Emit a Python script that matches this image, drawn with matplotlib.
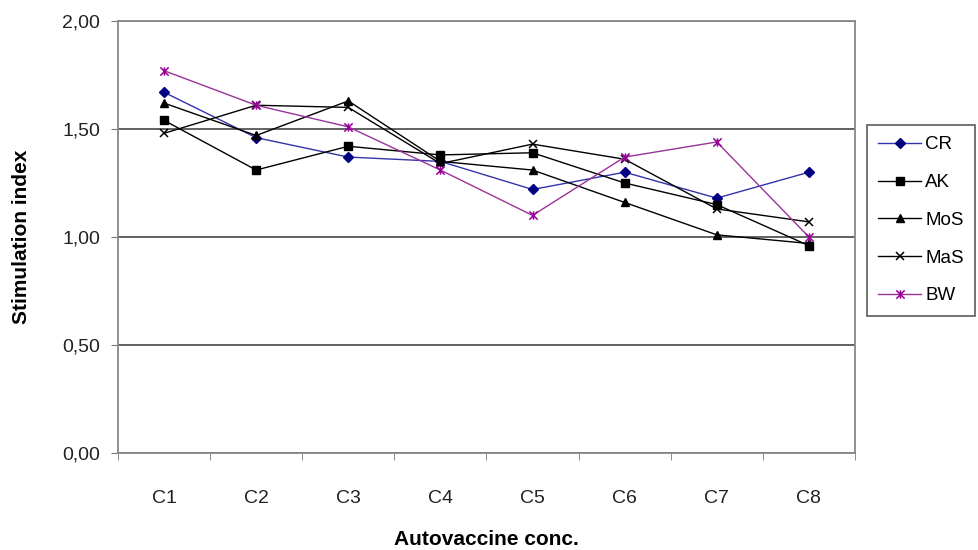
import matplotlib.pyplot as plt
from matplotlib.path import Path
from matplotlib.ticker import FuncFormatter, FixedLocator

plt.rcParams['font.family'] = ['Liberation Sans', 'DejaVu Sans']

concs = ['C1', 'C2', 'C3', 'C4', 'C5', 'C6', 'C7', 'C8']
cr = [1.67, 1.46, 1.37, 1.35, 1.22, 1.30, 1.18, 1.30]
ak = [1.54, 1.31, 1.42, 1.38, 1.39, 1.25, 1.15, 0.96]
mos = [1.62, 1.47, 1.63, 1.35, 1.31, 1.16, 1.01, 0.97]
mas = [1.48, 1.61, 1.60, 1.34, 1.43, 1.36, 1.13, 1.07]
bw = [1.77, 1.61, 1.51, 1.31, 1.10, 1.37, 1.44, 1.00]

# excel style star: x with a vertical bar
star = Path([(-1, -1), (1, 1), (-1, 1), (1, -1), (0, -1), (0, 1)],
            [Path.MOVETO, Path.LINETO, Path.MOVETO, Path.LINETO, Path.MOVETO, Path.LINETO])

fig = plt.figure(figsize=(9.79, 5.5), dpi=100)
ax = fig.add_axes([0.1205, 0.1764, 0.7528, 0.7854])

x = range(len(concs))
ax.plot(x, cr, color='#3333aa', lw=1, marker='D', ms=5, mfc='#000080', mec='#000080', label='CR')
ax.plot(x, ak, color='black', lw=1, marker='s', ms=5.5, label='AK')
ax.plot(x, mos, color='black', lw=1, marker='^', ms=6, label='MoS')
ax.plot(x, mas, color='black', lw=1, marker='x', ms=6, mew=1.1, label='MaS')
ax.plot(x, bw, color='#993399', lw=1, marker=star, ms=6, mew=1.1, mec='#990099', label='BW')

ax.set_xlim(-0.5, len(concs) - 0.5)
ax.set_ylim(0, 2)
ax.set_xticks(list(x))
ax.set_xticklabels(concs, fontsize=14, color='#222222')
ax.xaxis.set_minor_locator(FixedLocator([i - 0.5 for i in range(len(concs) + 1)]))
ax.tick_params(axis='x', which='major', length=0, pad=27)
ax.tick_params(axis='x', which='minor', length=5, color='#777777')
ax.set_yticks([0, 0.5, 1.0, 1.5, 2.0])
ax.yaxis.set_major_formatter(FuncFormatter(lambda v, pos: f"{v:.2f}".replace('.', ',')))
ax.tick_params(axis='y', length=5, color='#777777', labelsize=14, labelcolor='#222222', pad=8)

ax.grid(axis='y', color='#555555', lw=1.3)
ax.set_axisbelow(True)
for s in ax.spines.values():
    s.set_color('#888888')
    s.set_linewidth(1.3)

ax.set_xlabel('Autovaccine conc.', fontsize=15, fontweight='bold', labelpad=16)
ax.set_ylabel('Stimulation index', fontsize=15, fontweight='bold', labelpad=22)

leg = fig.legend(loc='upper left', bbox_to_anchor=(867 / 979, 1 - 125 / 550), fontsize=13.5,
                 frameon=True, fancybox=False, handlelength=2.3, handletextpad=0.2,
                 labelspacing=1.1, borderpad=0.6, borderaxespad=0)
leg.get_frame().set_edgecolor('#333333')
leg.get_frame().set_linewidth(1.2)

fig.savefig('out.png', dpi=100)
